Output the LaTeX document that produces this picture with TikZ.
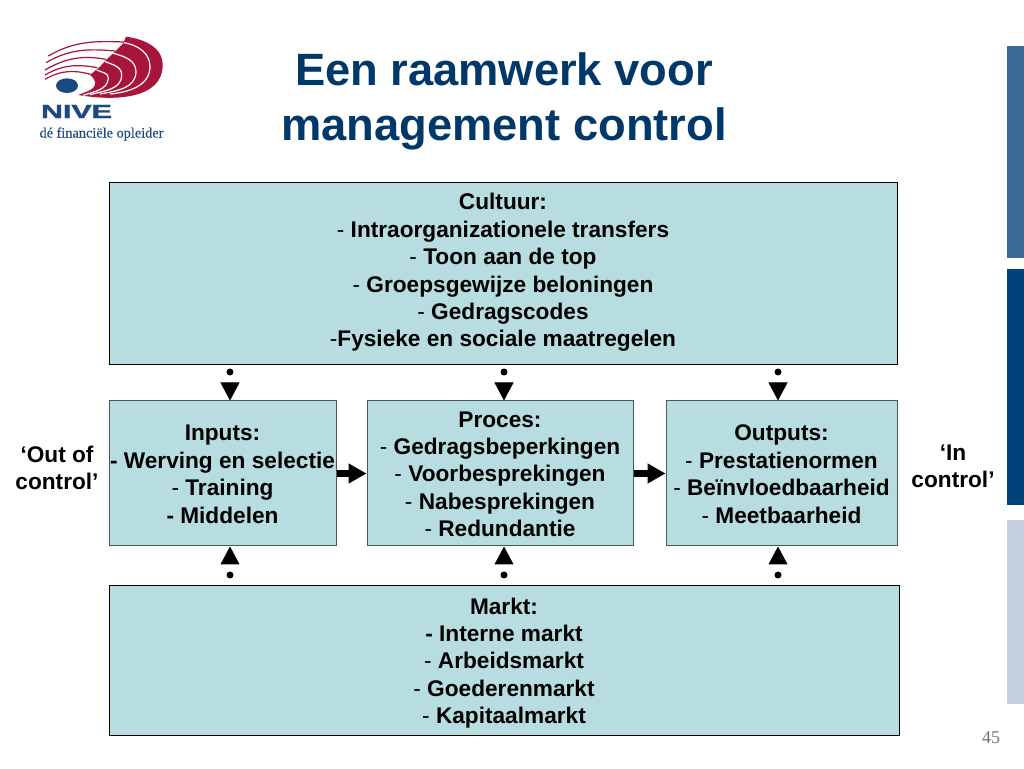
\documentclass[tikz,border=0pt]{standalone}
\usepackage{fontspec}
\setmainfont{Liberation Sans}
\newfontfamily\serifx[FakeBold=0.3]{Liberation Serif}
\newfontfamily\pagefont{Liberation Serif}
\newfontfamily\nivefont[FakeBold=1.5]{Liberation Sans Bold}
\usetikzlibrary{arrows.meta}
\definecolor{boxfill}{HTML}{B7DDE0}
\definecolor{titleblue}{HTML}{00386A}
\definecolor{logored}{HTML}{A8153B}
\definecolor{logoblue}{HTML}{1B4A80}
\definecolor{barA}{HTML}{3A6A97}
\definecolor{barB}{HTML}{00437A}
\definecolor{barC}{HTML}{C5CFE2}
\tikzset{
  x=1pt,y=1pt,
  bigbox/.style={draw=black,line width=1pt,fill=boxfill,inner sep=0pt,align=center,font=\fontsize{22.65}{27.4}\selectfont\bfseries},
  midbox/.style={bigbox,draw=black!60!boxfill},
  sidelabel/.style={align=center,inner sep=0pt,font=\fontsize{22.65}{27.2}\selectfont\bfseries},
  titletext/.style={align=center,inner sep=0pt,text=titleblue,font=\fontsize{45.3}{55}\selectfont\bfseries},
  dotmark/.style={circle,fill=black,inner sep=0pt,minimum size=7pt},
  vertarrow/.style={line width=1pt,shorten <=8pt,-{Triangle[length=18pt,width=19pt]}},
  horarrow/.style={line width=7pt,-{Triangle[length=18pt,width=19pt,sep=0pt]}},
  bar/.style={inner sep=0pt,minimum width=17pt},
  thinarc/.style={draw=logored,line width=1.2pt},
  sepwhite/.style={draw=white,line width=1.2pt}
}
\newcommand{\lines}[2]{\raisebox{\dimexpr #1-5.66pt\relax}[0pt][0pt]{\begin{tabular}{@{}c@{}}#2\end{tabular}}}
\begin{document}
\begin{tikzpicture}
\useasboundingbox (0,0) rectangle (1024,768);
\fill[white] (0,0) rectangle (1024,768);
% side bars
\node[bar,fill=barA,minimum height=212pt,anchor=north west] (barone) at (1007,722) {};
\node[bar,fill=barB,minimum height=236pt,anchor=north west] (bartwo) at (1007,499) {};
\node[bar,fill=barC,minimum height=184pt,anchor=north west] (barthree) at (1007,248) {};
% logo
\begin{scope}[shift={(0,748)},scale=1/3]
\fill[logored] (378,-50) to[out=-8,in=90] (488,-135) to[out=-90,in=-10] (235,-225)
   to[out=25,in=-80] (285,-185) to[out=100,in=-45] (270,-165)
   -- (300,-140) -- (318,-120) -- (345,-95) -- (370,-70) -- cycle;
\draw[sepwhite] (372,-68) to[out=-10,in=90] (450,-140) to[out=-90,in=5] (330,-222);
\draw[sepwhite] (340,-100) to[out=-15,in=90] (408,-155) to[out=-90,in=10] (300,-222);
\draw[sepwhite] (315,-125) to[out=-20,in=90] (365,-165) to[out=-90,in=15] (270,-224);
\draw[sepwhite] (290,-150) to[out=-25,in=85] (325,-175) to[out=-95,in=20] (250,-226);
\draw[thinarc] (145,-108) to[out=30,in=178] (372,-66);
\draw[thinarc] (138,-128) to[out=30,in=175] (345,-93);
\draw[thinarc] (135,-150) to[out=30,in=170] (318,-118);
\draw[thinarc] (135,-165) to[out=30,in=170] (292,-143);
\draw[thinarc] (135,-178) to[out=30,in=165] (272,-163);
\fill[logoblue] (201,-197) ellipse (33 and 22);
\end{scope}
\node[inner sep=0pt,text=logoblue,font=\fontsize{19}{19}\selectfont\nivefont,xscale=1.6] (nive) at (76.5,656.5) {NIVE};
\node[inner sep=0pt,text=logoblue,font=\fontsize{14.3}{15}\selectfont\serifx,anchor=center] (sub) at (101.5,634) {dé financiële opleider};
% title
\node[titletext] (title) at (504,667) {Een raamwerk voor\\management control};
% boxes
\node[bigbox,minimum width=788pt,minimum height=182pt] (cult) at (503,494) {\lines{1.5pt}{Cultuur:\\{\mdseries -} Intraorganizationele transfers\\{\mdseries -} Toon aan de top\\{\mdseries -} Groepsgewijze beloningen\\{\mdseries -} Gedragscodes\\{\mdseries -}Fysieke en sociale maatregelen}};
\node[midbox,minimum width=227pt,minimum height=145pt] (inp) at (222.5,294.5) {\lines{-2.5pt}{Inputs:\\- Werving en selectie\\{\mdseries -} Training\\- Middelen}};
\node[midbox,minimum width=266pt,minimum height=145pt] (proc) at (500,294.5) {\lines{-2.5pt}{Proces:\\{\mdseries -} Gedragsbeperkingen\\{\mdseries -} Voorbesprekingen\\{\mdseries -} Nabesprekingen\\{\mdseries -} Redundantie}};
\node[midbox,minimum width=231pt,minimum height=145pt] (outp) at (781.5,294.5) {\lines{-2.5pt}{Outputs:\\{\mdseries -} Prestatienormen\\{\mdseries -} Beïnvloedbaarheid\\{\mdseries -} Meetbaarheid}};
\node[bigbox,minimum width=790pt,minimum height=149pt] (markt) at (504,107.5) {\lines{-2.5pt}{Markt:\\- Interne markt\hspace{6pt}\\{\mdseries -} Arbeidsmarkt\\{\mdseries -} Goederenmarkt\\{\mdseries -} Kapitaalmarkt}};
% side labels
\node[sidelabel] (outc) at (57,300) {‘Out of\\control’};
\node[sidelabel] (inc) at (953,302) {‘In\\control’};
% dots
\node[dotmark] (d1) at (230,396) {};
\node[dotmark] (d2) at (504,396) {};
\node[dotmark] (d3) at (778,396) {};
\node[dotmark] (d4) at (230,193) {};
\node[dotmark] (d5) at (504,193) {};
\node[dotmark] (d6) at (778,193) {};
% connectors
\draw[vertarrow] (d1.south) -- (d1.south |- inp.north);
\draw[vertarrow] (d2.south) -- (d2.south |- proc.north);
\draw[vertarrow] (d3.south) -- (d3.south |- outp.north);
\draw[vertarrow] (d4.north) -- (d4.north |- inp.south);
\draw[vertarrow] (d5.north) -- (d5.north |- proc.south);
\draw[vertarrow] (d6.north) -- (d6.north |- outp.south);
\draw[horarrow] (inp.east) -- (proc.west);
\draw[horarrow] (proc.east) -- (outp.west);
% page number
\node[inner sep=0pt,text=black!55,font=\fontsize{18}{18}\selectfont\pagefont] (pg) at (991,30) {45};
\end{tikzpicture}
\end{document}
